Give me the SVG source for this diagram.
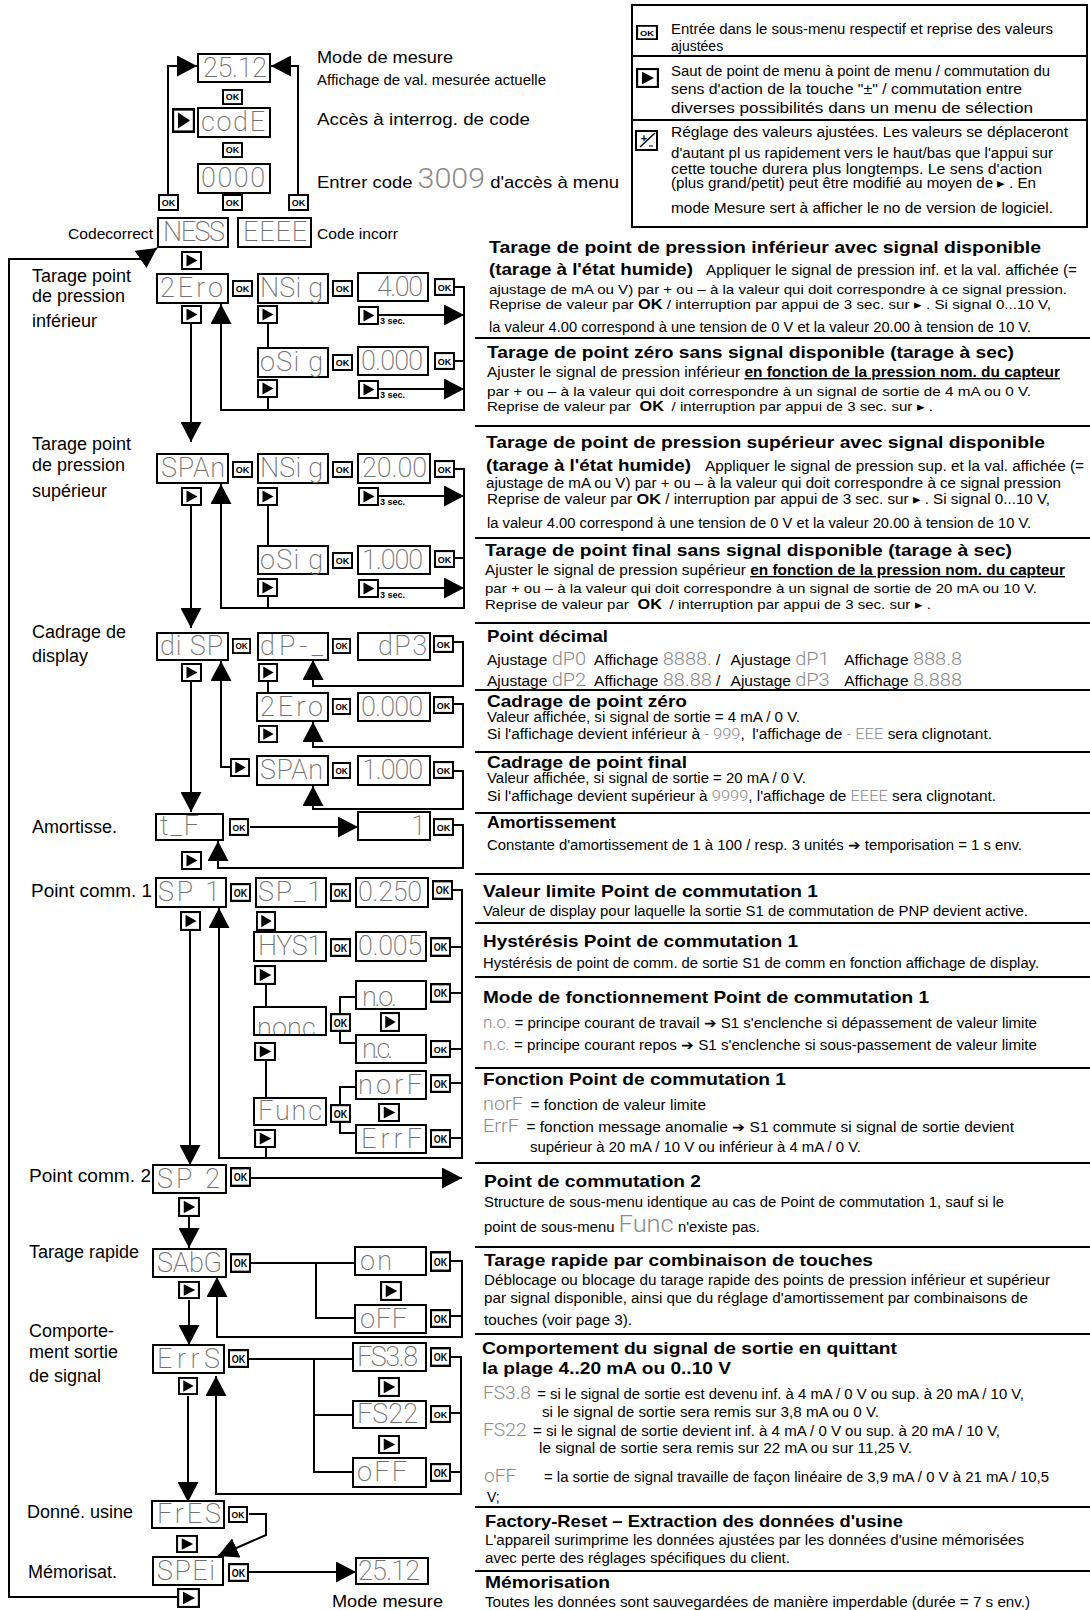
<svg xmlns="http://www.w3.org/2000/svg" width="1090" height="1610" viewBox="0 0 1090 1610">
<defs>
<style>
.bx{fill:#fff;stroke:#000;stroke-width:2}
.ln{fill:none;stroke:#000;stroke-width:2}
.ar{marker-end:url(#ah)}
.dsp{font-family:Roboto,Lato,"DejaVu Sans",sans-serif;font-weight:200;font-size:27px;fill:#707070}
.lt{font-family:Roboto,Lato,"DejaVu Sans",sans-serif;font-weight:300;font-size:18px;fill:#8a8a8a}
.lbl{font-family:"Liberation Sans",Arial,sans-serif;font-size:18px;fill:#000}
.t{font-family:"Liberation Sans",Arial,sans-serif;font-size:14px;fill:#000}
.h{font-family:"Liberation Sans",Arial,sans-serif;font-size:17px;font-weight:bold;fill:#000}
.b{font-weight:bold;fill:#000}
.u{font-weight:bold;text-decoration:underline}
.sec{font-family:"Liberation Sans",Arial,sans-serif;font-size:9px;font-weight:bold;fill:#000}
.dv{stroke:#000;stroke-width:2}
</style>
<marker id="ah" viewBox="0 0 20 21" refX="20" refY="10.5" markerWidth="20" markerHeight="21" markerUnits="userSpaceOnUse" orient="auto"><path d="M0,0 L20,10.5 L0,21 z" fill="#000"/></marker>
<symbol id="ok" viewBox="0 0 21 17" preserveAspectRatio="none"><rect x="1" y="1" width="19" height="15" fill="#fff" stroke="#000" stroke-width="2"/><text x="10.5" y="12.2" text-anchor="middle" font-family="Liberation Sans, Arial, sans-serif" font-size="9" font-weight="bold">OK</text></symbol>
<symbol id="pl" viewBox="0 0 21 19" preserveAspectRatio="none"><rect x="1" y="1" width="19" height="17" fill="#fff" stroke="#000" stroke-width="2"/><path d="M5.5,3.5 L16.5,9.5 L5.5,15.5 z" fill="#000"/></symbol>
<clipPath id="cpNonc"><rect x="255" y="1008" width="70" height="26"/></clipPath>
</defs>
<rect width="1090" height="1610" fill="#fff"/>

<!-- legend -->
<g id="legend">
<rect class="bx" x="632" y="5" width="455" height="222"/>
<line class="dv" x1="632" y1="56" x2="1087" y2="56"/>
<line class="dv" x1="632" y1="120" x2="1087" y2="120"/>
<use href="#ok" x="636" y="25" width="22" height="15"/>
<use href="#pl" x="636" y="68" width="23" height="20"/>
<g>
<rect x="636" y="131" width="21" height="19" fill="#fff" stroke="#000" stroke-width="2"/>
<line x1="640" y1="147" x2="655" y2="133" stroke="#000" stroke-width="1.5"/>
<text x="644" y="142" text-anchor="middle" font-family="Liberation Sans, Arial, sans-serif" font-size="11" font-weight="bold">+</text>
<line x1="649" y1="146" x2="653" y2="146" stroke="#000" stroke-width="1"/>
</g>
<text class="t" x="671" y="34" textLength="382" lengthAdjust="spacingAndGlyphs">Entrée dans le sous-menu respectif et reprise des valeurs</text>
<text class="t" x="671" y="51">ajustées</text>
<text class="t" x="671" y="76" textLength="379" lengthAdjust="spacingAndGlyphs">Saut de point de menu à point de menu / commutation du</text>
<text class="t" x="671" y="94" textLength="351" lengthAdjust="spacingAndGlyphs">sens d'action de la touche "±" / commutation entre</text>
<text class="t" x="671" y="113" textLength="362" lengthAdjust="spacingAndGlyphs">diverses possibilités dans un menu de sélection</text>
<text class="t" x="671" y="137" textLength="397" lengthAdjust="spacingAndGlyphs">Réglage des valeurs ajustées. Les valeurs se déplaceront</text>
<text class="t" x="671" y="158" textLength="382" lengthAdjust="spacingAndGlyphs">d'autant pl us rapidement vers le haut/bas que l'appui sur</text>
<text class="t" x="671" y="174" textLength="371" lengthAdjust="spacingAndGlyphs">cette touche durera plus longtemps. Le sens d'action</text>
<text class="t" x="671" y="188" textLength="365" lengthAdjust="spacingAndGlyphs">(plus grand/petit) peut être modifié au moyen de ▸ . En</text>
<text class="t" x="671" y="213" textLength="382" lengthAdjust="spacingAndGlyphs">mode Mesure sert à afficher le no de version de logiciel.</text>
</g>

<!-- connectors -->
<g id="connectors" class="ln">
<path class="ar" d="M168,194 V66 H197"/>
<path class="ar" d="M298,194 V66 H271"/>
<path class="ar" d="M177,1597 H9 V259 H141 L157,248"/>
<path class="ar" d="M191,324 V442"/>
<path class="ar" d="M455,287 H464 V410 H221 V304"/>
<path d="M268,324 V348"/>
<path class="ar" d="M379,315 H464"/>
<path d="M455,361 H464"/>
<path d="M268,398 V410"/>
<path class="ar" d="M379,389 H464"/>
<path class="ar" d="M191,506 V628"/>
<path class="ar" d="M455,469 H464 V608 H221 V484"/>
<path d="M268,506 V546"/>
<path class="ar" d="M379,496 H464"/>
<path d="M455,558 H464"/>
<path d="M268,597 V608"/>
<path class="ar" d="M379,588 H464"/>
<path class="ar" d="M191,682 V812"/>
<path class="ar" d="M454,642 H463 V686 H313 V660"/>
<path d="M268,682 V693"/>
<path class="ar" d="M454,704 H463 V747 H313 V722"/>
<path class="ar" d="M454,771 H463 V809 H313 V786"/>
<path class="ar" d="M230,767 H221 V661"/>
<path class="ar" d="M250,827 H358"/>
<path class="ar" d="M454,825 H463 V868 H218 V841"/>
<path class="ar" d="M190,930 V1165"/>
<path class="ar" d="M453,890 H462 V1158 H219 V908"/>
<path d="M451,947 H462"/>
<path d="M266,984 V1007"/>
<path d="M356,997 H340 V1043 H356"/>
<path d="M451,993 H462"/>
<path d="M451,1049 H462"/>
<path d="M266,1061 V1098"/>
<path d="M356,1087 H340 V1133 H356"/>
<path d="M451,1083 H462"/>
<path d="M451,1138 H462"/>
<path d="M266,1148 V1158"/>
<path class="ar" d="M251,1178 H462"/>
<path class="ar" d="M189,1216 V1248"/>
<path d="M251,1263 H355 M316,1263 V1318 H355"/>
<path class="ar" d="M451,1261 H462 V1337 H217 V1277"/>
<path d="M451,1316 H462"/>
<path class="ar" d="M189,1300 V1345"/>
<path d="M249,1359 H353 M314,1359 V1472 H353 M314,1415 H353"/>
<path class="ar" d="M451,1357 H461 V1494 H216 V1376"/>
<path d="M451,1413 H461 M451,1472 H461"/>
<path class="ar" d="M188,1396 V1502"/>
<path class="ar" d="M249,1514 H266 V1535 L218,1556"/>
<path class="ar" d="M249,1572 H356"/>
</g>

<!-- nodes -->
<g id="n-mesure"><rect class="bx" x="198" y="54" width="72" height="28"/><text class="dsp" x="203" y="77" textLength="64" lengthAdjust="spacing">25.12</text></g>
<g id="n-code"><rect class="bx" x="198" y="108" width="72" height="29"/><text class="dsp" x="201" y="131" textLength="64" lengthAdjust="spacing">codE</text></g>
<g id="n-0000"><rect class="bx" x="198" y="164" width="72" height="29"/><text class="dsp" x="201" y="187" textLength="64" lengthAdjust="spacing">0000</text></g>
<g id="n-ness"><rect class="bx" x="158" y="218" width="70" height="29"/><text class="dsp" x="163" y="241" textLength="62" lengthAdjust="spacing">NESS</text></g>
<g id="n-eeee"><rect class="bx" x="238" y="218" width="73" height="29"/><text class="dsp" x="243" y="241" textLength="64" lengthAdjust="spacing">EEEE</text></g>

<g id="n-2ero"><rect class="bx" x="157" y="274" width="71" height="29"/><text class="dsp" x="160" y="297" textLength="63" lengthAdjust="spacing">2Ero</text></g>
<g id="n-nsig1"><rect class="bx" x="258" y="274" width="70" height="29"/><text class="dsp" x="260" y="297" textLength="63" lengthAdjust="spacing">NSi g</text></g>
<g id="n-400"><rect class="bx" x="358" y="273" width="70" height="28"/><text class="dsp" x="377" y="296" textLength="46" lengthAdjust="spacing">4.00</text></g>
<g id="n-osig1"><rect class="bx" x="258" y="348" width="70" height="29"/><text class="dsp" x="260" y="371" textLength="63" lengthAdjust="spacing">oSi g</text></g>
<g id="n-0000b"><rect class="bx" x="358" y="347" width="70" height="28"/><text class="dsp" x="361" y="370" textLength="62" lengthAdjust="spacing">0.000</text></g>

<g id="n-span"><rect class="bx" x="157" y="454" width="71" height="29"/><text class="dsp" x="161" y="477" textLength="64" lengthAdjust="spacing">SPAn</text></g>
<g id="n-nsig2"><rect class="bx" x="258" y="454" width="70" height="29"/><text class="dsp" x="260" y="477" textLength="63" lengthAdjust="spacing">NSi g</text></g>
<g id="n-2000"><rect class="bx" x="358" y="454" width="72" height="29"/><text class="dsp" x="362" y="477" textLength="65" lengthAdjust="spacing">20.00</text></g>
<g id="n-osig2"><rect class="bx" x="258" y="546" width="70" height="28"/><text class="dsp" x="260" y="569" textLength="63" lengthAdjust="spacing">oSi g</text></g>
<g id="n-1000"><rect class="bx" x="358" y="546" width="72" height="28"/><text class="dsp" x="362" y="569" textLength="61" lengthAdjust="spacing">1.000</text></g>

<g id="n-disp"><rect class="bx" x="157" y="633" width="71" height="27"/><text class="dsp" x="160" y="655" textLength="63" lengthAdjust="spacing">di SP</text></g>
<g id="n-dp"><rect class="bx" x="258" y="633" width="70" height="27"/><text class="dsp" x="260" y="655" textLength="63" lengthAdjust="spacing">dP-_</text></g>
<g id="n-dp3"><rect class="bx" x="358" y="633" width="72" height="27"/><text class="dsp" x="378" y="655" textLength="49" lengthAdjust="spacing">dP3</text></g>
<g id="n-2ero2"><rect class="bx" x="257" y="693" width="71" height="28"/><text class="dsp" x="260" y="716" textLength="63" lengthAdjust="spacing">2Ero</text></g>
<g id="n-0000c"><rect class="bx" x="358" y="693" width="72" height="28"/><text class="dsp" x="361" y="716" textLength="62" lengthAdjust="spacing">0.000</text></g>
<g id="n-span2"><rect class="bx" x="257" y="756" width="71" height="29"/><text class="dsp" x="260" y="779" textLength="63" lengthAdjust="spacing">SPAn</text></g>
<g id="n-1000b"><rect class="bx" x="358" y="756" width="72" height="29"/><text class="dsp" x="362" y="779" textLength="61" lengthAdjust="spacing">1.000</text></g>

<g id="n-tf"><rect class="bx" x="156" y="814" width="67" height="26"/><text class="dsp" x="160" y="835" textLength="39" lengthAdjust="spacing">t_F</text></g>
<g id="n-tf1"><rect class="bx" x="358" y="812" width="72" height="28"/><text class="dsp" x="411" y="835">1</text></g>

<g id="n-sp1"><rect class="bx" x="156" y="878" width="70" height="29"/><text class="dsp" x="158" y="901" textLength="62" lengthAdjust="spacing">SP  1</text></g>
<g id="n-sp1v"><rect class="bx" x="256" y="878" width="70" height="29"/><text class="dsp" x="258" y="901" textLength="64" lengthAdjust="spacing">SP_1</text></g>
<g id="n-0250"><rect class="bx" x="356" y="878" width="72" height="29"/><text class="dsp" x="358" y="901" textLength="64" lengthAdjust="spacing">0.250</text></g>
<g id="n-hys1"><rect class="bx" x="254" y="932" width="72" height="29"/><text class="dsp" x="258" y="955" textLength="64" lengthAdjust="spacing">HYS1</text></g>
<g id="n-0005"><rect class="bx" x="356" y="932" width="70" height="29"/><text class="dsp" x="358" y="955" textLength="64" lengthAdjust="spacing">0.005</text></g>
<g id="n-nonc"><rect class="bx" x="254" y="1007" width="72" height="28"/><text class="dsp" x="257" y="1037" textLength="65" lengthAdjust="spacing" clip-path="url(#cpNonc)">nonc.</text></g>
<g id="n-no"><rect class="bx" x="356" y="981" width="70" height="28"/><text class="dsp" x="362" y="1006" textLength="35" lengthAdjust="spacing">n.o.</text></g>
<g id="n-nc"><rect class="bx" x="356" y="1035" width="70" height="28"/><text class="dsp" x="362" y="1058" textLength="31" lengthAdjust="spacing">n.c.</text></g>
<g id="n-func"><rect class="bx" x="254" y="1098" width="72" height="27"/><text class="dsp" x="258" y="1120" textLength="64" lengthAdjust="spacing">Func</text></g>
<g id="n-norf"><rect class="bx" x="356" y="1071" width="70" height="28"/><text class="dsp" x="358" y="1094" textLength="64" lengthAdjust="spacing">norF</text></g>
<g id="n-errf"><rect class="bx" x="356" y="1125" width="70" height="28"/><text class="dsp" x="361" y="1148" textLength="61" lengthAdjust="spacing">ErrF</text></g>

<g id="n-sp2"><rect class="bx" x="153" y="1165" width="73" height="28"/><text class="dsp" x="157" y="1188" textLength="63" lengthAdjust="spacing">SP  2</text></g>

<g id="n-sabg"><rect class="bx" x="153" y="1249" width="73" height="28"/><text class="dsp" x="157" y="1272" textLength="65" lengthAdjust="spacing">SAbG</text></g>
<g id="n-on"><rect class="bx" x="355" y="1247" width="71" height="28"/><text class="dsp" x="360" y="1270" textLength="32" lengthAdjust="spacing">on</text></g>
<g id="n-off1"><rect class="bx" x="355" y="1305" width="71" height="28"/><text class="dsp" x="360" y="1328" textLength="47" lengthAdjust="spacing">oFF</text></g>

<g id="n-errs"><rect class="bx" x="153" y="1345" width="71" height="28"/><text class="dsp" x="157" y="1368" textLength="63" lengthAdjust="spacing">ErrS</text></g>
<g id="n-fs38"><rect class="bx" x="353" y="1343" width="73" height="28"/><text class="dsp" x="357" y="1366" textLength="61" lengthAdjust="spacing">FS3.8</text></g>
<g id="n-fs22"><rect class="bx" x="353" y="1401" width="73" height="27"/><text class="dsp" x="357" y="1423" textLength="61" lengthAdjust="spacing">FS22</text></g>
<g id="n-off2"><rect class="bx" x="353" y="1458" width="73" height="29"/><text class="dsp" x="357" y="1481" textLength="50" lengthAdjust="spacing">oFF</text></g>

<g id="n-fres"><rect class="bx" x="152" y="1501" width="72" height="27"/><text class="dsp" x="157" y="1523" textLength="64" lengthAdjust="spacing">FrES</text></g>
<g id="n-spei"><rect class="bx" x="153" y="1557" width="70" height="28"/><text class="dsp" x="157" y="1580" textLength="58" lengthAdjust="spacing">SPEi</text></g>
<g id="n-mesure2"><rect class="bx" x="356" y="1558" width="72" height="26"/><text class="dsp" x="358" y="1580" textLength="62" lengthAdjust="spacing">25.12</text></g>

<!-- keys -->
<g id="keys">
<use href="#ok" x="222" y="89" width="21" height="16"/>
<use href="#ok" x="222" y="142" width="21" height="16"/>
<use href="#ok" x="158" y="194" width="21" height="17"/>
<use href="#ok" x="222" y="194" width="21" height="17"/>
<use href="#ok" x="288" y="194" width="21" height="17"/>
<use href="#pl" x="172" y="108" width="23" height="25"/>
<use href="#pl" x="181" y="251" width="21" height="19"/>

<use href="#ok" x="232" y="280" width="21" height="17"/>
<use href="#ok" x="332" y="280" width="21" height="17"/>
<use href="#ok" x="434" y="278" width="21" height="18"/>
<use href="#ok" x="332" y="354" width="21" height="17"/>
<use href="#ok" x="434" y="352" width="21" height="18"/>
<use href="#pl" x="181" y="305" width="21" height="19"/>
<use href="#pl" x="257" y="305" width="21" height="19"/>
<use href="#pl" x="358" y="306" width="21" height="19"/>
<use href="#pl" x="257" y="379" width="21" height="19"/>
<use href="#pl" x="358" y="380" width="21" height="19"/>

<use href="#ok" x="232" y="461" width="21" height="17"/>
<use href="#ok" x="332" y="461" width="21" height="17"/>
<use href="#ok" x="434" y="460" width="21" height="18"/>
<use href="#ok" x="332" y="552" width="21" height="17"/>
<use href="#ok" x="434" y="550" width="21" height="18"/>
<use href="#pl" x="181" y="487" width="21" height="19"/>
<use href="#pl" x="257" y="487" width="21" height="19"/>
<use href="#pl" x="358" y="487" width="21" height="19"/>
<use href="#pl" x="257" y="578" width="21" height="19"/>
<use href="#pl" x="358" y="579" width="21" height="19"/>

<use href="#ok" x="232" y="638" width="19" height="16"/>
<use href="#ok" x="332" y="638" width="19" height="16"/>
<use href="#ok" x="433" y="635" width="21" height="18"/>
<use href="#ok" x="332" y="698" width="19" height="17"/>
<use href="#ok" x="433" y="696" width="21" height="18"/>
<use href="#ok" x="332" y="762" width="19" height="17"/>
<use href="#ok" x="433" y="761" width="21" height="18"/>
<use href="#pl" x="181" y="663" width="21" height="19"/>
<use href="#pl" x="258" y="663" width="20" height="19"/>
<use href="#pl" x="258" y="725" width="20" height="18"/>
<use href="#pl" x="230" y="758" width="20" height="19"/>

<use href="#ok" x="229" y="818" width="20" height="18"/>
<use href="#ok" x="433" y="818" width="21" height="18"/>
<use href="#pl" x="181" y="851" width="21" height="19"/>

<use href="#ok" x="230" y="883" width="21" height="19"/>
<use href="#ok" x="330" y="883" width="21" height="19"/>
<use href="#ok" x="432" y="880" width="21" height="20"/>
<use href="#ok" x="330" y="938" width="21" height="19"/>
<use href="#ok" x="430" y="937" width="21" height="20"/>
<use href="#ok" x="330" y="1013" width="21" height="19"/>
<use href="#ok" x="430" y="983" width="21" height="20"/>
<use href="#ok" x="430" y="1040" width="21" height="18"/>
<use href="#ok" x="330" y="1104" width="21" height="19"/>
<use href="#ok" x="430" y="1074" width="21" height="19"/>
<use href="#ok" x="430" y="1129" width="21" height="19"/>
<use href="#pl" x="180" y="911" width="21" height="20"/>
<use href="#pl" x="256" y="911" width="20" height="20"/>
<use href="#pl" x="254" y="965" width="22" height="20"/>
<use href="#pl" x="380" y="1012" width="20" height="20"/>
<use href="#pl" x="254" y="1042" width="22" height="19"/>
<use href="#pl" x="378" y="1103" width="22" height="19"/>
<use href="#pl" x="254" y="1129" width="22" height="19"/>

<use href="#ok" x="230" y="1167" width="21" height="20"/>
<use href="#pl" x="178" y="1197" width="22" height="20"/>

<use href="#ok" x="230" y="1253" width="21" height="20"/>
<use href="#ok" x="430" y="1251" width="21" height="21"/>
<use href="#ok" x="430" y="1309" width="21" height="19"/>
<use href="#pl" x="178" y="1281" width="22" height="18"/>
<use href="#pl" x="380" y="1281" width="22" height="20"/>

<use href="#ok" x="228" y="1349" width="21" height="19"/>
<use href="#ok" x="430" y="1347" width="21" height="20"/>
<use href="#ok" x="430" y="1405" width="21" height="18"/>
<use href="#ok" x="430" y="1463" width="21" height="19"/>
<use href="#pl" x="178" y="1377" width="20" height="18"/>
<use href="#pl" x="378" y="1377" width="22" height="20"/>
<use href="#pl" x="378" y="1435" width="22" height="19"/>

<use href="#ok" x="228" y="1506" width="20" height="17"/>
<use href="#pl" x="176" y="1535" width="22" height="18"/>
<use href="#ok" x="228" y="1563" width="21" height="19"/>
<use href="#pl" x="177" y="1588" width="23" height="20"/>
</g>

<g id="sec-labels">
<text class="sec" x="380" y="324">3 sec.</text>
<text class="sec" x="380" y="398">3 sec.</text>
<text class="sec" x="380" y="505">3 sec.</text>
<text class="sec" x="380" y="598">3 sec.</text>
</g>

<!-- top texts -->
<g id="top-texts">
<text class="lbl" x="317" y="63" style="font-size:17px" textLength="136" lengthAdjust="spacingAndGlyphs">Mode de mesure</text>
<text class="t" x="317" y="85" textLength="229" lengthAdjust="spacingAndGlyphs">Affichage de val. mesurée actuelle</text>
<text class="lbl" x="317" y="125" style="font-size:17px" textLength="213" lengthAdjust="spacingAndGlyphs">Accès à interrog. de code</text>
<text class="lbl" x="317" y="188" style="font-size:17px" textLength="302" lengthAdjust="spacingAndGlyphs">Entrer code <tspan class="lt" style="font-size:28px">3009</tspan> d'accès à menu</text>
<text class="t" x="68" y="239" style="font-size:15px" textLength="85" lengthAdjust="spacingAndGlyphs">Codecorrect</text>
<text class="t" x="317" y="239" style="font-size:15px" textLength="81" lengthAdjust="spacingAndGlyphs">Code incorr</text>
<text class="lbl" x="332" y="1607" style="font-size:17px" textLength="111" lengthAdjust="spacingAndGlyphs">Mode mesure</text>
</g>

<!-- left labels -->
<g id="left-labels">
<text class="lbl" x="32" y="282">Tarage point</text>
<text class="lbl" x="32" y="302">de pression</text>
<text class="lbl" x="32" y="327">inférieur</text>
<text class="lbl" x="32" y="450">Tarage point</text>
<text class="lbl" x="32" y="471">de pression</text>
<text class="lbl" x="32" y="497">supérieur</text>
<text class="lbl" x="32" y="638">Cadrage de</text>
<text class="lbl" x="32" y="662">display</text>
<text class="lbl" x="32" y="833">Amortisse.</text>
<text class="lbl" x="31" y="897" textLength="121" lengthAdjust="spacingAndGlyphs">Point comm. 1</text>
<text class="lbl" x="29" y="1182" textLength="122" lengthAdjust="spacingAndGlyphs">Point comm. 2</text>
<text class="lbl" x="29" y="1258">Tarage rapide</text>
<text class="lbl" x="29" y="1337">Comporte-</text>
<text class="lbl" x="29" y="1358">ment sortie</text>
<text class="lbl" x="29" y="1382">de signal</text>
<text class="lbl" x="27" y="1518">Donné. usine</text>
<text class="lbl" x="28" y="1578">Mémorisat.</text>
</g>

<!-- right descriptions -->
<g id="dividers">
<line class="dv" x1="475" y1="338" x2="1090" y2="338"/>
<line class="dv" x1="475" y1="426" x2="1090" y2="426"/>
<line class="dv" x1="475" y1="538" x2="1090" y2="538"/>
<line class="dv" x1="475" y1="623" x2="1090" y2="623"/>
<line class="dv" x1="475" y1="690" x2="1090" y2="690"/>
<line class="dv" x1="475" y1="752" x2="1090" y2="752"/>
<line class="dv" x1="475" y1="813" x2="1090" y2="813"/>
<line class="dv" x1="475" y1="874" x2="1090" y2="874"/>
<line class="dv" x1="475" y1="923" x2="1090" y2="923"/>
<line class="dv" x1="475" y1="977" x2="1090" y2="977"/>
<line class="dv" x1="475" y1="1068" x2="1090" y2="1068"/>
<line class="dv" x1="475" y1="1163" x2="1090" y2="1163"/>
<line class="dv" x1="475" y1="1247" x2="1090" y2="1247"/>
<line class="dv" x1="475" y1="1334" x2="1090" y2="1334"/>
<line class="dv" x1="475" y1="1507" x2="1090" y2="1507"/>
<line class="dv" x1="475" y1="1571" x2="1090" y2="1571"/>
</g>

<g id="d-tarage-inf">
<text class="h" x="489" y="253" textLength="552" lengthAdjust="spacingAndGlyphs">Tarage de point de pression inférieur avec signal disponible</text>
<text class="h" x="489" y="275" textLength="204" lengthAdjust="spacingAndGlyphs">(tarage à l'état humide)</text>
<text class="t" x="706" y="275" textLength="371" lengthAdjust="spacingAndGlyphs">Appliquer le signal de pression inf. et la val. affichée (=</text>
<text class="t" x="489" y="294" style="font-size:13px" textLength="578" lengthAdjust="spacingAndGlyphs">ajustage de mA ou V) par + ou – à la valeur qui doit correspondre à ce signal pression.</text>
<text class="t" x="489" y="309" style="font-size:13px" textLength="562" lengthAdjust="spacingAndGlyphs">Reprise de valeur par <tspan class="b" style="font-size:14px">OK</tspan>  / interruption par appui de 3 sec. sur ▸ . Si signal 0...10 V,</text>
<text class="t" x="489" y="332" textLength="542" lengthAdjust="spacingAndGlyphs">la valeur 4.00 correspond à une tension de 0 V et la valeur 20.00 à tension de 10 V.</text>
</g>
<g id="d-zero-sec">
<text class="h" x="487" y="358" textLength="527" lengthAdjust="spacingAndGlyphs">Tarage de point zéro sans signal disponible (tarage à sec)</text>
<text class="t" x="487" y="377" textLength="573" lengthAdjust="spacingAndGlyphs">Ajuster le signal de pression inférieur <tspan class="u">en fonction de la pression nom. du capteur</tspan></text>
<text class="t" x="487" y="396" style="font-size:13px" textLength="544" lengthAdjust="spacingAndGlyphs">par + ou – à la valeur qui doit correspondre à un signal de sortie de 4 mA ou 0 V.</text>
<text class="t" x="487" y="411" style="font-size:13px" textLength="446" lengthAdjust="spacingAndGlyphs">Reprise de valeur par <tspan class="b" style="font-size:14px" dx="4">OK</tspan> <tspan dx="3">/ interruption par appui de 3 sec. sur ▸ .</tspan></text>
</g>
<g id="d-tarage-sup">
<text class="h" x="486" y="448" textLength="559" lengthAdjust="spacingAndGlyphs">Tarage de point de pression supérieur avec signal disponible</text>
<text class="h" x="486" y="471" textLength="205" lengthAdjust="spacingAndGlyphs">(tarage à l'état humide)</text>
<text class="t" x="705" y="471" textLength="379" lengthAdjust="spacingAndGlyphs">Appliquer le signal de pression sup. et la val. affichée (=</text>
<text class="t" x="486" y="488" textLength="575" lengthAdjust="spacingAndGlyphs">ajustage de mA ou V) par + ou – à la valeur qui doit correspondre à ce signal pression</text>
<text class="t" x="487" y="504" textLength="563" lengthAdjust="spacingAndGlyphs">Reprise de valeur par <tspan class="b" style="font-size:15px">OK</tspan>  / interruption par appui de 3 sec. sur ▸ . Si signal 0...10 V,</text>
<text class="t" x="487" y="528" textLength="544" lengthAdjust="spacingAndGlyphs">la valeur 4.00 correspond à une tension de 0 V et la valeur 20.00 à tension de 10 V.</text>
</g>
<g id="d-final-sec">
<text class="h" x="485" y="556" textLength="527" lengthAdjust="spacingAndGlyphs">Tarage de point final sans signal disponible (tarage à sec)</text>
<text class="t" x="485" y="575" textLength="580" lengthAdjust="spacingAndGlyphs">Ajuster le signal de pression supérieur <tspan class="u">en fonction de la pression nom. du capteur</tspan></text>
<text class="t" x="485" y="593" style="font-size:13px" textLength="552" lengthAdjust="spacingAndGlyphs">par + ou – à la valeur qui doit correspondre à un signal de sortie de 20 mA ou 10 V.</text>
<text class="t" x="485" y="609" style="font-size:13px" textLength="446" lengthAdjust="spacingAndGlyphs">Reprise de valeur par <tspan class="b" style="font-size:14px" dx="4">OK</tspan> <tspan dx="3">/ interruption par appui de 3 sec. sur ▸ .</tspan></text>
</g>
<g id="d-point-decimal">
<text class="h" x="487" y="642" textLength="121" lengthAdjust="spacingAndGlyphs">Point décimal</text>
<text class="t" x="487" y="665" textLength="475" lengthAdjust="spacingAndGlyphs">Ajustage <tspan class="lt">dP0</tspan> <tspan dx="4">Affichage</tspan> <tspan class="lt">8888.</tspan> / <tspan dx="6">Ajustage</tspan> <tspan class="lt">dP1</tspan> <tspan dx="10">Affichage</tspan> <tspan class="lt">888.8</tspan></text>
<text class="t" x="487" y="686" textLength="475" lengthAdjust="spacingAndGlyphs">Ajustage <tspan class="lt">dP2</tspan> <tspan dx="4">Affichage</tspan> <tspan class="lt">88.88</tspan> / <tspan dx="6">Ajustage</tspan> <tspan class="lt">dP3</tspan> <tspan dx="10">Affichage</tspan> <tspan class="lt">8.888</tspan></text>
</g>
<g id="d-cadrage-zero">
<text class="h" x="487" y="707" textLength="200" lengthAdjust="spacingAndGlyphs">Cadrage de point zéro</text>
<text class="t" x="487" y="722" textLength="313" lengthAdjust="spacingAndGlyphs">Valeur affichée, si signal de sortie = 4 mA / 0 V.</text>
<text class="t" x="487" y="739" textLength="505" lengthAdjust="spacingAndGlyphs">Si l'affichage devient inférieur à <tspan class="lt" style="font-size:15px">- 999</tspan>,  <tspan dx="3">l'affichage de</tspan> <tspan class="lt" style="font-size:15px">- EEE</tspan> sera clignotant.</text>
</g>
<g id="d-cadrage-final">
<text class="h" x="487" y="768" textLength="200" lengthAdjust="spacingAndGlyphs">Cadrage de point final</text>
<text class="t" x="487" y="783" textLength="319" lengthAdjust="spacingAndGlyphs">Valeur affichée, si signal de sortie = 20 mA / 0 V.</text>
<text class="t" x="487" y="801" textLength="509" lengthAdjust="spacingAndGlyphs">Si l'affichage devient supérieur à <tspan class="lt" style="font-size:15px">9999</tspan>, l'affichage de <tspan class="lt" style="font-size:15px">EEEE</tspan> sera clignotant.</text>
</g>
<g id="d-amortissement">
<text class="h" x="487" y="828" textLength="129" lengthAdjust="spacingAndGlyphs">Amortissement</text>
<text class="t" x="487" y="850" textLength="535" lengthAdjust="spacingAndGlyphs">Constante d'amortissement de 1 à 100 / resp. 3 unités ➔ temporisation = 1 s env.</text>
</g>
<g id="d-sp1">
<text class="h" x="483" y="897" textLength="335" lengthAdjust="spacingAndGlyphs">Valeur limite Point de commutation 1</text>
<text class="t" x="483" y="916" textLength="545" lengthAdjust="spacingAndGlyphs">Valeur de display pour laquelle la sortie S1 de commutation de PNP devient active.</text>
<text class="h" x="483" y="947" textLength="315" lengthAdjust="spacingAndGlyphs">Hystérésis Point de commutation 1</text>
<text class="t" x="483" y="968" textLength="556" lengthAdjust="spacingAndGlyphs">Hystérésis de point de comm. de sortie S1 de comm en fonction affichage de display.</text>
<text class="h" x="483" y="1003" textLength="446" lengthAdjust="spacingAndGlyphs">Mode de fonctionnement Point de commutation 1</text>
<text class="t" x="483" y="1028" textLength="554" lengthAdjust="spacingAndGlyphs"><tspan class="lt" style="font-size:16px">n.o.</tspan> = principe courant de travail ➔ S1 s'enclenche si dépassement de valeur limite</text>
<text class="t" x="483" y="1050" textLength="554" lengthAdjust="spacingAndGlyphs"><tspan class="lt" style="font-size:16px">n.c.</tspan> = principe courant repos ➔ S1 s'enclenche si sous-passement de valeur limite</text>
<text class="h" x="483" y="1085" textLength="303" lengthAdjust="spacingAndGlyphs">Fonction Point de commutation 1</text>
<text class="t" x="483" y="1110" textLength="223" lengthAdjust="spacingAndGlyphs"><tspan class="lt">norF</tspan> <tspan dx="3">= fonction de valeur limite</tspan></text>
<text class="t" x="483" y="1132" textLength="531" lengthAdjust="spacingAndGlyphs"><tspan class="lt">ErrF</tspan> <tspan dx="3">= fonction message anomalie ➔ S1 commute si signal de sortie devient</tspan></text>
<text class="t" x="530" y="1152" textLength="331" lengthAdjust="spacingAndGlyphs">supérieur à 20 mA / 10 V ou inférieur à 4 mA / 0 V.</text>
</g>
<g id="d-sp2">
<text class="h" x="484" y="1187" textLength="217" lengthAdjust="spacingAndGlyphs">Point de commutation 2</text>
<text class="t" x="484" y="1207" textLength="520" lengthAdjust="spacingAndGlyphs">Structure de sous-menu identique au cas de Point de commutation 1, sauf si le</text>
<text class="t" x="484" y="1232" textLength="276" lengthAdjust="spacingAndGlyphs">point de sous-menu <tspan class="lt" style="font-size:24px">Func</tspan> n'existe pas.</text>
</g>
<g id="d-sabg">
<text class="h" x="484" y="1266" textLength="389" lengthAdjust="spacingAndGlyphs">Tarage rapide par combinaison de touches</text>
<text class="t" x="484" y="1285" textLength="566" lengthAdjust="spacingAndGlyphs">Déblocage ou blocage du tarage rapide des points de pression inférieur et supérieur</text>
<text class="t" x="484" y="1303" textLength="544" lengthAdjust="spacingAndGlyphs">par signal disponible, ainsi que du réglage d'amortissement par combinaisons de</text>
<text class="t" x="484" y="1325" textLength="148" lengthAdjust="spacingAndGlyphs">touches (voir page 3).</text>
</g>
<g id="d-errs">
<text class="h" x="482" y="1354" textLength="415" lengthAdjust="spacingAndGlyphs">Comportement du signal de sortie en quittant</text>
<text class="h" x="482" y="1374" textLength="249" lengthAdjust="spacingAndGlyphs">la plage 4..20 mA ou 0..10 V</text>
<text class="t" x="483" y="1399" textLength="541" lengthAdjust="spacingAndGlyphs"><tspan class="lt">FS3.8</tspan> <tspan dx="2">= si le signal de sortie est devenu inf. à 4 mA / 0 V ou sup. à 20 mA / 10 V,</tspan></text>
<text class="t" x="542" y="1417" textLength="337" lengthAdjust="spacingAndGlyphs">si le signal de sortie sera remis sur 3,8 mA ou 0 V.</text>
<text class="t" x="483" y="1436" textLength="517" lengthAdjust="spacingAndGlyphs"><tspan class="lt">FS22</tspan> <tspan dx="2">= si le signal de sortie devient inf. à 4 mA / 0 V ou sup. à 20 mA / 10 V,</tspan></text>
<text class="t" x="539" y="1453" textLength="373" lengthAdjust="spacingAndGlyphs">le signal de sortie sera remis sur 22 mA ou sur 11,25 V.</text>
<text class="t" x="484" y="1482" textLength="565" lengthAdjust="spacingAndGlyphs"><tspan class="lt">oFF</tspan> <tspan dx="22">= la sortie de signal travaille de façon linéaire de 3,9 mA / 0 V à 21 mA / 10,5</tspan></text>
<text class="t" x="487" y="1502">V;</text>
</g>
<g id="d-fres">
<text class="h" x="485" y="1527" textLength="418" lengthAdjust="spacingAndGlyphs">Factory-Reset – Extraction des données d'usine</text>
<text class="t" x="485" y="1545" textLength="539" lengthAdjust="spacingAndGlyphs">L'appareil surimprime les données ajustées par les données d'usine mémorisées</text>
<text class="t" x="485" y="1563" textLength="305" lengthAdjust="spacingAndGlyphs">avec perte des réglages spécifiques du client.</text>
</g>
<g id="d-spei">
<text class="h" x="485" y="1588" textLength="125" lengthAdjust="spacingAndGlyphs">Mémorisation</text>
<text class="t" x="485" y="1607" textLength="545" lengthAdjust="spacingAndGlyphs">Toutes les données sont sauvegardées de manière imperdable (durée = 7 s env.)</text>
</g>
</svg>
